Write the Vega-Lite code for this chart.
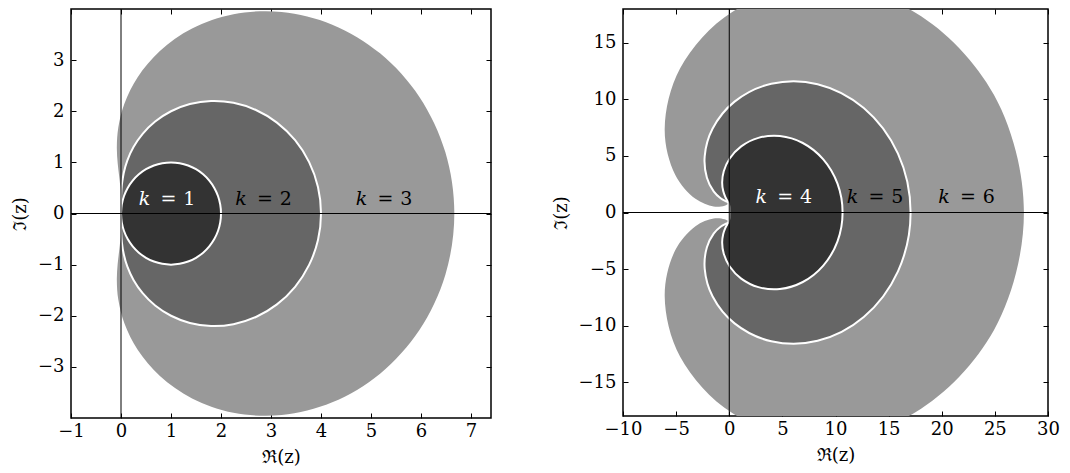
{
  "$schema": "https://vega.github.io/schema/vega-lite/v6.json",
  "padding": {"left": 10, "top": 7, "right": 0, "bottom": 0},
  "spacing": 58,
  "config": {
    "font": "DejaVu Serif",
    "view": {"stroke": "black", "strokeWidth": 1.5},
    "axis": {"grid": false, "domain": false, "tickColor": "black", "tickSize": -5, "tickWidth": 1, "labelFont": "DejaVu Serif", "labelFontSize": 18, "labelColor": "black", "labelFlush": false, "labelBound": false, "labelOverlap": false, "titleFont": "DejaVu Serif", "titleFontSize": 18, "titleFontWeight": "normal", "titleColor": "black"},
    "axisBottom": {"labelPadding": 9, "titlePadding": 8},
    "axisLeft": {"labelPadding": 12, "titlePadding": 8}
  },
  "datasets": {
    "L": [
      {"k":1,"i":0,"x":0,"y":0},{"k":1,"i":1,"x":0.0152,"y":0.1736},{"k":1,"i":2,"x":0.0603,"y":0.342},{"k":1,"i":3,"x":0.134,"y":0.5},{"k":1,"i":4,"x":0.234,"y":0.6428},{"k":1,"i":5,"x":0.3572,"y":0.766},{"k":1,"i":6,"x":0.5,"y":0.866},{"k":1,"i":7,"x":0.658,"y":0.9397},{"k":1,"i":8,"x":0.8264,"y":0.9848},{"k":1,"i":9,"x":1,"y":1},{"k":1,"i":10,"x":1.1736,"y":0.9848},{"k":1,"i":11,"x":1.342,"y":0.9397},{"k":1,"i":12,"x":1.5,"y":0.866},{"k":1,"i":13,"x":1.6428,"y":0.766},{"k":1,"i":14,"x":1.766,"y":0.6428},{"k":1,"i":15,"x":1.866,"y":0.5},{"k":1,"i":16,"x":1.9397,"y":0.342},{"k":1,"i":17,"x":1.9848,"y":0.1736},{"k":1,"i":18,"x":2,"y":0},
      {"k":1,"i":19,"x":1.9848,"y":-0.1736},{"k":1,"i":20,"x":1.9397,"y":-0.342},{"k":1,"i":21,"x":1.866,"y":-0.5},{"k":1,"i":22,"x":1.766,"y":-0.6428},{"k":1,"i":23,"x":1.6428,"y":-0.766},{"k":1,"i":24,"x":1.5,"y":-0.866},{"k":1,"i":25,"x":1.342,"y":-0.9397},{"k":1,"i":26,"x":1.1736,"y":-0.9848},{"k":1,"i":27,"x":1,"y":-1},{"k":1,"i":28,"x":0.8264,"y":-0.9848},{"k":1,"i":29,"x":0.658,"y":-0.9397},{"k":1,"i":30,"x":0.5,"y":-0.866},{"k":1,"i":31,"x":0.3572,"y":-0.766},{"k":1,"i":32,"x":0.234,"y":-0.6428},{"k":1,"i":33,"x":0.134,"y":-0.5},{"k":1,"i":34,"x":0.0603,"y":-0.342},{"k":1,"i":35,"x":0.0152,"y":-0.1736},{"k":1,"i":36,"x":0,"y":0},
      {"k":2,"i":0,"x":0,"y":0},{"k":2,"i":1,"x":0.0002,"y":0.1763},{"k":2,"i":2,"x":0.0036,"y":0.3627},{"k":2,"i":3,"x":0.018,"y":0.567},{"k":2,"i":4,"x":0.0547,"y":0.7932},{"k":2,"i":5,"x":0.1276,"y":1.0397},{"k":2,"i":6,"x":0.25,"y":1.299},{"k":2,"i":7,"x":0.4329,"y":1.558},{"k":2,"i":8,"x":0.6829,"y":1.7986},{"k":2,"i":9,"x":1,"y":2},{"k":2,"i":10,"x":1.3775,"y":2.1406},{"k":2,"i":11,"x":1.801,"y":2.2008},{"k":2,"i":12,"x":2.25,"y":2.1651},{"k":2,"i":13,"x":2.6988,"y":2.0245},{"k":2,"i":14,"x":3.1189,"y":1.778},{"k":2,"i":15,"x":3.4821,"y":1.433},{"k":2,"i":16,"x":3.7624,"y":1.0054},{"k":2,"i":17,"x":3.9395,"y":0.5183},{"k":2,"i":18,"x":4,"y":0},
      {"k":2,"i":19,"x":3.9395,"y":-0.5183},{"k":2,"i":20,"x":3.7624,"y":-1.0054},{"k":2,"i":21,"x":3.4821,"y":-1.433},{"k":2,"i":22,"x":3.1189,"y":-1.778},{"k":2,"i":23,"x":2.6988,"y":-2.0245},{"k":2,"i":24,"x":2.25,"y":-2.1651},{"k":2,"i":25,"x":1.801,"y":-2.2008},{"k":2,"i":26,"x":1.3775,"y":-2.1406},{"k":2,"i":27,"x":1,"y":-2},{"k":2,"i":28,"x":0.6829,"y":-1.7986},{"k":2,"i":29,"x":0.4329,"y":-1.558},{"k":2,"i":30,"x":0.25,"y":-1.299},{"k":2,"i":31,"x":0.1276,"y":-1.0397},{"k":2,"i":32,"x":0.0547,"y":-0.7932},{"k":2,"i":33,"x":0.018,"y":-0.567},{"k":2,"i":34,"x":0.0036,"y":-0.3627},{"k":2,"i":35,"x":0.0002,"y":-0.1763},{"k":2,"i":36,"x":0,"y":0},
      {"k":3,"i":0,"x":0,"y":0},{"k":3,"i":1,"x":-0.0002,"y":0.1746},{"k":3,"i":2,"x":-0.0033,"y":0.3506},{"k":3,"i":3,"x":-0.0147,"y":0.5343},{"k":3,"i":4,"x":-0.0377,"y":0.7398},{"k":3,"i":5,"x":-0.0668,"y":0.9876},{"k":3,"i":6,"x":-0.0833,"y":1.299},{"k":3,"i":7,"x":-0.0531,"y":1.6882},{"k":3,"i":8,"x":0.0695,"y":2.1527},{"k":3,"i":9,"x":0.3333,"y":2.6667},{"k":3,"i":10,"x":0.7781,"y":3.1788},{"k":3,"i":11,"x":1.4217,"y":3.6166},{"k":3,"i":12,"x":2.25,"y":3.8971},{"k":3,"i":13,"x":3.2126,"y":3.942},{"k":3,"i":14,"x":4.2253,"y":3.6943},{"k":3,"i":15,"x":5.1814,"y":3.1324},{"k":3,"i":16,"x":5.9682,"y":2.2789},{"k":3,"i":17,"x":6.486,"y":1.2007},{"k":3,"i":18,"x":6.6667,"y":0},
      {"k":3,"i":19,"x":6.486,"y":-1.2007},{"k":3,"i":20,"x":5.9682,"y":-2.2789},{"k":3,"i":21,"x":5.1814,"y":-3.1324},{"k":3,"i":22,"x":4.2253,"y":-3.6943},{"k":3,"i":23,"x":3.2126,"y":-3.942},{"k":3,"i":24,"x":2.25,"y":-3.8971},{"k":3,"i":25,"x":1.4217,"y":-3.6166},{"k":3,"i":26,"x":0.7781,"y":-3.1788},{"k":3,"i":27,"x":0.3333,"y":-2.6667},{"k":3,"i":28,"x":0.0695,"y":-2.1527},{"k":3,"i":29,"x":-0.0531,"y":-1.6882},{"k":3,"i":30,"x":-0.0833,"y":-1.299},{"k":3,"i":31,"x":-0.0668,"y":-0.9876},{"k":3,"i":32,"x":-0.0377,"y":-0.7398},{"k":3,"i":33,"x":-0.0147,"y":-0.5343},{"k":3,"i":34,"x":-0.0033,"y":-0.3506},{"k":3,"i":35,"x":-0.0002,"y":-0.1746},{"k":3,"i":36,"x":0,"y":0}
    ],
    "R": [
      {"k":4,"i":0,"x":0,"y":0},{"k":4,"i":1,"x":0,"y":0.1745},{"k":4,"i":2,"x":-0.0006,"y":0.3482},{"k":4,"i":3,"x":-0.0058,"y":0.5188},{"k":4,"i":4,"x":-0.0282,"y":0.6859},{"k":4,"i":5,"x":-0.089,"y":0.8619},{"k":4,"i":6,"x":-0.2083,"y":1.0825},{"k":4,"i":7,"x":-0.3848,"y":1.4099},{"k":4,"i":8,"x":-0.5722,"y":1.9192},{"k":4,"i":9,"x":-0.6667,"y":2.6667},{"k":4,"i":10,"x":-0.5163,"y":3.6499},{"k":4,"i":11,"x":0.042,"y":4.7743},{"k":4,"i":12,"x":1.125,"y":5.8457},{"k":4,"i":13,"x":2.7439,"y":6.5998},{"k":4,"i":14,"x":4.7669,"y":6.7658},{"k":4,"i":15,"x":6.9225,"y":6.1479},{"k":4,"i":16,"x":8.8503,"y":4.6974},{"k":4,"i":17,"x":10.1879,"y":2.548},{"k":4,"i":18,"x":10.6667,"y":0},
      {"k":4,"i":19,"x":10.1879,"y":-2.548},{"k":4,"i":20,"x":8.8503,"y":-4.6974},{"k":4,"i":21,"x":6.9225,"y":-6.1479},{"k":4,"i":22,"x":4.7669,"y":-6.7658},{"k":4,"i":23,"x":2.7439,"y":-6.5998},{"k":4,"i":24,"x":1.125,"y":-5.8457},{"k":4,"i":25,"x":0.042,"y":-4.7743},{"k":4,"i":26,"x":-0.5163,"y":-3.6499},{"k":4,"i":27,"x":-0.6667,"y":-2.6667},{"k":4,"i":28,"x":-0.5722,"y":-1.9192},{"k":4,"i":29,"x":-0.3848,"y":-1.4099},{"k":4,"i":30,"x":-0.2083,"y":-1.0825},{"k":4,"i":31,"x":-0.089,"y":-0.8619},{"k":4,"i":32,"x":-0.0282,"y":-0.6859},{"k":4,"i":33,"x":-0.0058,"y":-0.5188},{"k":4,"i":34,"x":-0.0006,"y":-0.3482},{"k":4,"i":35,"x":0,"y":-0.1745},{"k":4,"i":36,"x":0,"y":0},
      {"k":5,"i":0,"x":0,"y":0},{"k":5,"i":1,"x":0,"y":0.1745},{"k":5,"i":2,"x":0.0002,"y":0.3489},{"k":5,"i":3,"x":0.0014,"y":0.5207},{"k":5,"i":4,"x":0.0014,"y":0.6807},{"k":5,"i":5,"x":-0.0183,"y":0.8124},{"k":5,"i":6,"x":-0.1083,"y":0.9093},{"k":5,"i":7,"x":-0.3501,"y":1.0141},{"k":5,"i":8,"x":-0.8124,"y":1.2592},{"k":5,"i":9,"x":-1.4667,"y":1.8667},{"k":5,"i":10,"x":-2.1028,"y":3.0725},{"k":5,"i":11,"x":-2.3095,"y":4.98},{"k":5,"i":12,"x":-1.575,"y":7.4045},{"k":5,"i":13,"x":0.4993,"y":9.8055},{"k":5,"i":14,"x":3.9526,"y":11.3839},{"k":5,"i":15,"x":8.3153,"y":11.346},{"k":5,"i":16,"x":12.661,"y":9.2388},{"k":5,"i":17,"x":15.8787,"y":5.2017},{"k":5,"i":18,"x":17.0667,"y":0},
      {"k":5,"i":19,"x":15.8787,"y":-5.2017},{"k":5,"i":20,"x":12.661,"y":-9.2388},{"k":5,"i":21,"x":8.3153,"y":-11.346},{"k":5,"i":22,"x":3.9526,"y":-11.3839},{"k":5,"i":23,"x":0.4993,"y":-9.8055},{"k":5,"i":24,"x":-1.575,"y":-7.4045},{"k":5,"i":25,"x":-2.3095,"y":-4.98},{"k":5,"i":26,"x":-2.1028,"y":-3.0725},{"k":5,"i":27,"x":-1.4667,"y":-1.8667},{"k":5,"i":28,"x":-0.8124,"y":-1.2592},{"k":5,"i":29,"x":-0.3501,"y":-1.0141},{"k":5,"i":30,"x":-0.1083,"y":-0.9093},{"k":5,"i":31,"x":-0.0183,"y":-0.8124},{"k":5,"i":32,"x":0.0014,"y":-0.6807},{"k":5,"i":33,"x":0.0014,"y":-0.5207},{"k":5,"i":34,"x":0.0002,"y":-0.3489},{"k":5,"i":35,"x":0,"y":-0.1745},{"k":5,"i":36,"x":0,"y":0},
      {"k":6,"i":0,"x":0,"y":0},{"k":6,"i":1,"x":0,"y":0.1745},{"k":6,"i":2,"x":0.0001,"y":0.3491},{"k":6,"i":3,"x":0.0014,"y":0.5239},{"k":6,"i":4,"x":0.0099,"y":0.6955},{"k":6,"i":5,"x":0.0343,"y":0.8428},{"k":6,"i":6,"x":0.0583,"y":0.9093},{"k":6,"i":7,"x":-0.0212,"y":0.8242},{"k":6,"i":8,"x":-0.4362,"y":0.6076},{"k":6,"i":9,"x":-1.4667,"y":0.5333},{"k":6,"i":10,"x":-3.1806,"y":1.2057},{"k":6,"i":11,"x":-5.1004,"y":3.3687},{"k":6,"i":12,"x":-6.075,"y":7.4045},{"k":6,"i":13,"x":-4.6201,"y":12.7612},{"k":6,"i":14,"x":0.2805,"y":17.7442},{"k":6,"i":15,"x":8.3153,"y":20.0095},{"k":6,"i":16,"x":17.5263,"y":17.6657},{"k":6,"i":17,"x":24.9074,"y":10.4145},{"k":6,"i":18,"x":27.7333,"y":0},
      {"k":6,"i":19,"x":24.9074,"y":-10.4145},{"k":6,"i":20,"x":17.5263,"y":-17.6657},{"k":6,"i":21,"x":8.3153,"y":-20.0095},{"k":6,"i":22,"x":0.2805,"y":-17.7442},{"k":6,"i":23,"x":-4.6201,"y":-12.7612},{"k":6,"i":24,"x":-6.075,"y":-7.4045},{"k":6,"i":25,"x":-5.1004,"y":-3.3687},{"k":6,"i":26,"x":-3.1806,"y":-1.2057},{"k":6,"i":27,"x":-1.4667,"y":-0.5333},{"k":6,"i":28,"x":-0.4362,"y":-0.6076},{"k":6,"i":29,"x":-0.0212,"y":-0.8242},{"k":6,"i":30,"x":0.0583,"y":-0.9093},{"k":6,"i":31,"x":0.0343,"y":-0.8428},{"k":6,"i":32,"x":0.0099,"y":-0.6955},{"k":6,"i":33,"x":0.0014,"y":-0.5239},{"k":6,"i":34,"x":0.0001,"y":-0.3491},{"k":6,"i":35,"x":0,"y":-0.1745},{"k":6,"i":36,"x":0,"y":0}
    ],
    "labL": [{"k":1,"x":0.3,"y":0.16},{"k":2,"x":2.23,"y":0.16},{"k":3,"x":4.64,"y":0.16}],
    "labR": [{"k":4,"x":2.2,"y":0.8},{"k":5,"x":10.8,"y":0.8},{"k":6,"x":19.4,"y":0.8}],
    "origin": [{"v":0}]
  },
  "hconcat": [
    {
      "width": 420, "height": 409,
      "resolve": {"axis": {"x": "independent", "y": "independent"}},
      "layer": [
        {
          "data": {"name": "L"},
          "transform": [{"filter": "datum.k === 3"}],
          "mark": {"type": "line", "fill": "#999999", "stroke": null, "strokeWidth": 0, "interpolate": "catmull-rom"},
          "encoding": {
            "x": {"field": "x", "type": "quantitative", "scale": {"domain": [-1, 7.4], "nice": false, "zero": false}, "axis": {"orient": "bottom", "title": "ℜ(z)", "values": [-1,0,1,2,3,4,5,6,7]}},
            "y": {"field": "y", "type": "quantitative", "scale": {"domain": [-4, 4], "nice": false, "zero": false}, "axis": {"orient": "left", "title": "ℑ(z)", "values": [-3,-2,-1,0,1,2,3]}},
            "order": {"field": "i", "type": "quantitative"}
          }
        },
        {
          "data": {"name": "L"},
          "transform": [{"filter": "datum.k === 2"}],
          "mark": {"type": "line", "fill": "#666666", "stroke": "white", "strokeWidth": 2, "interpolate": "catmull-rom"},
          "encoding": {
            "x": {"field": "x", "type": "quantitative", "axis": null},
            "y": {"field": "y", "type": "quantitative", "axis": null},
            "order": {"field": "i", "type": "quantitative"}
          }
        },
        {
          "data": {"name": "L"},
          "transform": [{"filter": "datum.k === 1"}],
          "mark": {"type": "line", "fill": "#333333", "stroke": "white", "strokeWidth": 2, "interpolate": "catmull-rom"},
          "encoding": {
            "x": {"field": "x", "type": "quantitative", "axis": null},
            "y": {"field": "y", "type": "quantitative", "axis": null},
            "order": {"field": "i", "type": "quantitative"}
          }
        },
        {
          "data": {"name": "origin"},
          "mark": {"type": "rule", "color": "black", "strokeWidth": 1},
          "encoding": {"x": {"field": "v", "type": "quantitative", "axis": {"orient": "top", "labels": false, "title": null, "values": [-1,0,1,2,3,4,5,6,7]}}}
        },
        {
          "data": {"name": "origin"},
          "mark": {"type": "rule", "color": "black", "strokeWidth": 1},
          "encoding": {"y": {"field": "v", "type": "quantitative", "axis": {"orient": "right", "labels": false, "title": null, "values": [-3,-2,-1,0,1,2,3]}}}
        },
        {
          "data": {"name": "labL"},
          "mark": {"type": "text", "font": "DejaVu Serif", "fontSize": 19, "fontStyle": "italic", "align": "center", "baseline": "alphabetic", "dx": 8.5, "text": "k"},
          "encoding": {
            "x": {"field": "x", "type": "quantitative", "axis": null},
            "y": {"field": "y", "type": "quantitative", "axis": null},
            "color": {"field": "k", "type": "nominal", "scale": {"domain": [1,2,3], "range": ["white","black","black"]}, "legend": null}
          }
        },
        {
          "data": {"name": "labL"},
          "mark": {"type": "text", "font": "DejaVu Serif", "fontSize": 19, "align": "center", "baseline": "alphabetic", "dx": 32.5, "text": "="},
          "encoding": {
            "x": {"field": "x", "type": "quantitative", "axis": null},
            "y": {"field": "y", "type": "quantitative", "axis": null},
            "color": {"field": "k", "type": "nominal", "scale": {"domain": [1,2,3], "range": ["white","black","black"]}, "legend": null}
          }
        },
        {
          "data": {"name": "labL"},
          "mark": {"type": "text", "font": "DejaVu Serif", "fontSize": 19, "align": "center", "baseline": "alphabetic", "dx": 53.3},
          "encoding": {
            "x": {"field": "x", "type": "quantitative", "axis": null},
            "y": {"field": "y", "type": "quantitative", "axis": null},
            "text": {"field": "k", "type": "nominal"},
            "color": {"field": "k", "type": "nominal", "scale": {"domain": [1,2,3], "range": ["white","black","black"]}, "legend": null}
          }
        }
      ]
    },
    {
      "width": 425, "height": 407,
      "resolve": {"axis": {"x": "independent", "y": "independent"}},
      "layer": [
        {
          "data": {"name": "R"},
          "transform": [{"filter": "datum.k === 6"}],
          "mark": {"type": "line", "fill": "#999999", "stroke": null, "strokeWidth": 0, "interpolate": "catmull-rom", "clip": true},
          "encoding": {
            "x": {"field": "x", "type": "quantitative", "scale": {"domain": [-10, 30], "nice": false, "zero": false}, "axis": {"orient": "bottom", "title": "ℜ(z)", "values": [-10,-5,0,5,10,15,20,25,30]}},
            "y": {"field": "y", "type": "quantitative", "scale": {"domain": [-18, 18], "nice": false, "zero": false}, "axis": {"orient": "left", "title": "ℑ(z)", "values": [-15,-10,-5,0,5,10,15]}},
            "order": {"field": "i", "type": "quantitative"}
          }
        },
        {
          "data": {"name": "R"},
          "transform": [{"filter": "datum.k === 5"}],
          "mark": {"type": "line", "fill": "#666666", "stroke": "white", "strokeWidth": 2, "interpolate": "catmull-rom", "clip": true},
          "encoding": {
            "x": {"field": "x", "type": "quantitative", "axis": null},
            "y": {"field": "y", "type": "quantitative", "axis": null},
            "order": {"field": "i", "type": "quantitative"}
          }
        },
        {
          "data": {"name": "R"},
          "transform": [{"filter": "datum.k === 4"}],
          "mark": {"type": "line", "fill": "#333333", "stroke": "white", "strokeWidth": 2, "interpolate": "catmull-rom", "clip": true},
          "encoding": {
            "x": {"field": "x", "type": "quantitative", "axis": null},
            "y": {"field": "y", "type": "quantitative", "axis": null},
            "order": {"field": "i", "type": "quantitative"}
          }
        },
        {
          "data": {"name": "origin"},
          "mark": {"type": "rule", "color": "black", "strokeWidth": 1},
          "encoding": {"x": {"field": "v", "type": "quantitative", "axis": {"orient": "top", "labels": false, "title": null, "values": [-10,-5,0,5,10,15,20,25,30]}}}
        },
        {
          "data": {"name": "origin"},
          "mark": {"type": "rule", "color": "black", "strokeWidth": 1},
          "encoding": {"y": {"field": "v", "type": "quantitative", "axis": {"orient": "right", "labels": false, "title": null, "values": [-15,-10,-5,0,5,10,15]}}}
        },
        {
          "data": {"name": "labR"},
          "mark": {"type": "text", "font": "DejaVu Serif", "fontSize": 19, "fontStyle": "italic", "align": "center", "baseline": "alphabetic", "dx": 8.5, "text": "k"},
          "encoding": {
            "x": {"field": "x", "type": "quantitative", "axis": null},
            "y": {"field": "y", "type": "quantitative", "axis": null},
            "color": {"field": "k", "type": "nominal", "scale": {"domain": [4,5,6], "range": ["white","black","black"]}, "legend": null}
          }
        },
        {
          "data": {"name": "labR"},
          "mark": {"type": "text", "font": "DejaVu Serif", "fontSize": 19, "align": "center", "baseline": "alphabetic", "dx": 32.5, "text": "="},
          "encoding": {
            "x": {"field": "x", "type": "quantitative", "axis": null},
            "y": {"field": "y", "type": "quantitative", "axis": null},
            "color": {"field": "k", "type": "nominal", "scale": {"domain": [4,5,6], "range": ["white","black","black"]}, "legend": null}
          }
        },
        {
          "data": {"name": "labR"},
          "mark": {"type": "text", "font": "DejaVu Serif", "fontSize": 19, "align": "center", "baseline": "alphabetic", "dx": 53.3},
          "encoding": {
            "x": {"field": "x", "type": "quantitative", "axis": null},
            "y": {"field": "y", "type": "quantitative", "axis": null},
            "text": {"field": "k", "type": "nominal"},
            "color": {"field": "k", "type": "nominal", "scale": {"domain": [4,5,6], "range": ["white","black","black"]}, "legend": null}
          }
        }
      ]
    }
  ]
}
